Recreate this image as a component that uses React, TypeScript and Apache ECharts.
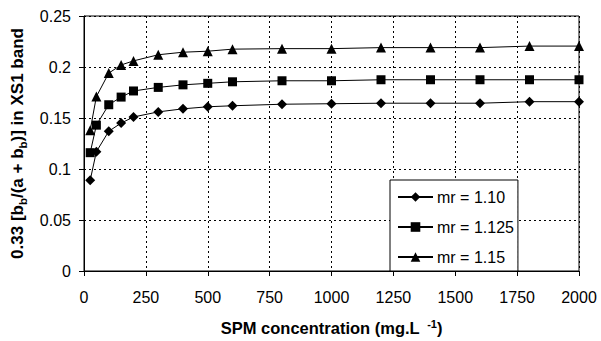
import React, { useEffect, useRef } from "react";
import * as echarts from "echarts";

const spm = [25, 50, 100, 150, 200, 300, 400, 500, 600, 800, 1000, 1200, 1400, 1600, 1800, 2000];
const mr110 = [0.089, 0.117, 0.137, 0.145, 0.151, 0.156, 0.159, 0.161, 0.162, 0.1635, 0.164, 0.1645, 0.1645, 0.1645, 0.166, 0.166];
const mr1125 = [0.116, 0.143, 0.163, 0.1705, 0.1765, 0.18, 0.1825, 0.184, 0.1855, 0.1865, 0.1865, 0.1875, 0.1875, 0.1875, 0.1875, 0.1875];
const mr115 = [0.138, 0.171, 0.194, 0.202, 0.206, 0.212, 0.2145, 0.2155, 0.2175, 0.218, 0.218, 0.219, 0.219, 0.219, 0.2205, 0.2205];
const seriesNames = ["mr = 1.10", "mr = 1.125", "mr = 1.15"];
const xTicks = { min: 0, max: 2000, interval: 250 };
const yTicks = { min: 0, max: 0.25, interval: 0.05 };

export default function App() {
  const ref = useRef<HTMLDivElement>(null);
  useEffect(() => {
    if (!ref.current) return;
    const chart = echarts.init(ref.current, null, { renderer: "svg" });
    const font = "Arial, 'Liberation Sans', sans-serif";
    const mk = (name: string, vals: number[], symbol: string, size: number) => ({
      name,
      type: "line",
      data: spm.map((x, i) => [x, vals[i]]),
      symbol,
      symbolSize: size,
      showSymbol: true,
      lineStyle: { color: "#000", width: 1 },
      itemStyle: { color: "#000" },
      z: 3,
    });
    chart.setOption({
      animation: false,
      backgroundColor: "#fff",
      textStyle: { fontFamily: font },
      grid: {
        left: 84,
        right: 22,
        top: 16,
        bottom: 69,
        show: true,
        borderColor: "#000",
        borderWidth: 1,
        backgroundColor: "transparent",
      },
      legend: {
        orient: "vertical",
        left: 390,
        top: 180,
        backgroundColor: "#fff",
        borderColor: "#000",
        borderWidth: 1,
        padding: [9, 4, 6, 7],
        itemWidth: 35,
        itemHeight: 12,
        itemGap: 14,
        textStyle: { fontSize: 16, color: "#000", fontFamily: font, padding: [0, 0, 0, -1] },
        data: seriesNames,
        z: 10,
      },
      xAxis: {
        type: "value",
        min: xTicks.min,
        max: xTicks.max,
        interval: xTicks.interval,
        name: "{n|SPM concentration (mg.L }{s| -1}{n|)}",
        nameLocation: "middle",
        nameGap: 47,
        nameTextStyle: {
          rich: {
            n: { fontSize: 16.5, fontWeight: "bold", color: "#000", fontFamily: font, lineHeight: 18, verticalAlign: "bottom" },
            s: { fontSize: 11, fontWeight: "bold", color: "#000", fontFamily: font, lineHeight: 18, verticalAlign: "top", padding: [0, 0, 6, 0] },
          },
        },
        axisLine: { show: true, lineStyle: { color: "#000", width: 1 } },
        axisTick: { show: true, inside: false, length: 5, lineStyle: { color: "#000" } },
        axisLabel: { fontSize: 16, color: "#000", margin: 18, fontFamily: font, formatter: (v: number) => String(v) },
        splitLine: { show: true, lineStyle: { color: "#000", type: [2, 3], width: 1 } },
      },
      yAxis: {
        type: "value",
        min: yTicks.min,
        max: yTicks.max,
        interval: yTicks.interval,
        name: "{n|0.33 [b}{b|b}{n|/(a + b}{b|b}{n|)] in XS1 band}",
        nameLocation: "middle",
        nameRotate: 90,
        nameGap: 47,
        nameTextStyle: {
          rich: {
            n: { fontSize: 17, fontWeight: "bold", color: "#000", fontFamily: font, lineHeight: 20, verticalAlign: "top" },
            b: { fontSize: 11.5, fontWeight: "bold", color: "#000", fontFamily: font, lineHeight: 20, verticalAlign: "bottom", padding: [6, 0, 0, 0] },
          },
        },
        axisLine: { show: true, lineStyle: { color: "#000", width: 1 } },
        axisTick: { show: true, inside: false, length: 5, lineStyle: { color: "#000" } },
        axisLabel: { fontSize: 16, color: "#000", margin: 13, fontFamily: font, formatter: (v: number) => String(Math.round(v * 100) / 100) },
        splitLine: { show: true, lineStyle: { color: "#000", type: [2, 3], width: 1 } },
      },
      series: [
        mk(seriesNames[0], mr110, "diamond", 10),
        mk(seriesNames[1], mr1125, "rect", 9),
        mk(seriesNames[2], mr115, "triangle", 10),
      ],
    });
    return () => chart.dispose();
  }, []);
  return <div ref={ref} style={{ width: 601, height: 341, position: "absolute", left: 0, top: 0 }} />;
}
